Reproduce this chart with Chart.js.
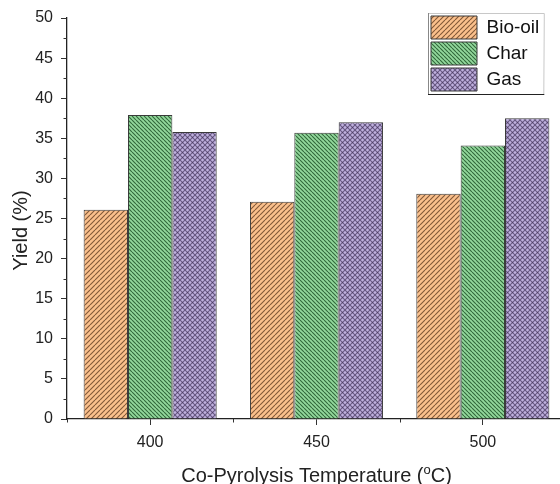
<!DOCTYPE html>
<html><head><meta charset="utf-8">
<script src="https://cdn.jsdelivr.net/npm/chart.js@4.4.0/dist/chart.umd.min.js"></script>
<style>html,body{margin:0;padding:0;overflow:hidden;background:#fff}#wrap{width:566px;height:484px;position:relative}</style>
</head><body><div id="wrap"><canvas id="c"></canvas></div>
<script>
// ---- data ----
const categories = ['400', '450', '500'];
const bioOil = [26.1, 27.1, 28.1];
const charYield = [37.9, 35.7, 34.1];
const gas = [35.8, 37.0, 37.5];
const seriesNames = ['Bio-oil', 'Char', 'Gas'];
const yMin = 0, yMax = 50, yStep = 5;
const xTitleParts = ['Co-Pyrolysis Temperature (', 'o', 'C)'];
const yTitle = 'Yield (%)';

const FONT = "'Liberation Sans', Arial, sans-serif";

function makePattern(base, line, size, dirs) {
  const c = document.createElement('canvas');
  c.width = size; c.height = size;
  const g = c.getContext('2d');
  g.fillStyle = base; g.fillRect(0, 0, size, size);
  g.strokeStyle = line; g.lineWidth = 1.1;
  dirs.forEach(d => {
    g.beginPath();
    for (let k = -1; k <= 1; k++) {
      if (d === '/') { g.moveTo(k * size, size); g.lineTo(k * size + size, 0); }
      else { g.moveTo(k * size, 0); g.lineTo(k * size + size, size); }
    }
    g.stroke();
  });
  return g.createPattern(c, 'repeat');
}

const ctx = document.getElementById('c').getContext('2d');
const pBio = makePattern('#fbc08c', 'rgba(100,62,35,0.8)', 5, ['/']);
const pChar = makePattern('#93d89c', 'rgba(25,75,35,0.8)', 4, ['\\']);
const pGas = makePattern('#bfb0de', 'rgba(60,45,85,0.65)', 5, ['/', '\\']);

const LEG_PAD = 3;

const extras = {
  id: 'extras',
  afterLayout(chart) {
    const lg = chart.legend;
    const ca = chart.chartArea;
    // place legend inside plot, top-right
    lg.left = ca.right - 135 - LEG_PAD;
    lg.top = ca.top - 2 - LEG_PAD;
  },
  afterDraw(chart) {
    const c = chart.ctx, ca = chart.chartArea;
    const ys = chart.scales.y, xs = chart.scales.x;
    c.save();
    c.strokeStyle = '#333'; c.lineWidth = 1;
    // minor y ticks
    c.beginPath();
    for (let v = yMin + yStep / 2; v < yMax; v += yStep) {
      const py = Math.round(ys.getPixelForValue(v)) + 0.5;
      c.moveTo(ca.left - 3.5, py); c.lineTo(ca.left, py);
    }
    // minor x ticks at category boundaries
    for (let i = 0; i < categories.length; i++) {
      const px = Math.round(xs.getPixelForValue(i) - (xs.getPixelForValue(1) - xs.getPixelForValue(0)) / 2) + 0.5;
      c.moveTo(px, ca.bottom); c.lineTo(px, ca.bottom + 3.5);
    }
    c.stroke();

    // legend border
    const lg = chart.legend;
    const lo = chart.options.plugins.legend.labels;
    const fs = lo.font.size;
    c.font = fs + 'px ' + FONT;
    let maxW = 0;
    seriesNames.forEach(n => { maxW = Math.max(maxW, c.measureText(n).width); });
    const bx = lg.left + LEG_PAD - 3, by = lg.top + LEG_PAD - 3;
    const bw = lo.boxWidth + fs / 2 + maxW + 8;
    const bh = seriesNames.length * lo.boxHeight + (seriesNames.length - 1) * lo.padding + 6;
    c.lineWidth = 1;
    c.strokeStyle = '#c8c8c8';
    c.beginPath(); c.moveTo(bx, by + 0.5); c.lineTo(bx + bw, by + 0.5); c.lineTo(bx + bw - 0.5, by + bh); c.stroke();
    c.strokeStyle = '#888';
    c.beginPath(); c.moveTo(bx + 0.5, by); c.lineTo(bx + 0.5, by + bh); c.stroke();
    c.strokeStyle = '#222';
    c.beginPath(); c.moveTo(bx, by + bh + 0.5); c.lineTo(bx + bw, by + bh + 0.5); c.stroke();

    // x title with superscript
    c.fillStyle = '#222';
    const f1 = '20px ' + FONT, f2 = '13px ' + FONT;
    c.font = f1; const w0 = c.measureText(xTitleParts[0]).width; const w2 = c.measureText(xTitleParts[2]).width;
    c.font = f2; const w1 = c.measureText(xTitleParts[1]).width;
    const total = w0 + w1 + w2;
    let x = (ca.left + ca.right) / 2 - total / 2;
    const base = chart.height - 2;
    c.textAlign = 'left'; c.textBaseline = 'alphabetic';
    c.font = f1; c.fillText(xTitleParts[0], x, base); x += w0;
    c.font = f2; c.fillText(xTitleParts[1], x, base - 8); x += w1;
    c.font = f1; c.fillText(xTitleParts[2], x, base);

    // y title
    c.translate(27, (ca.top + ca.bottom) / 2 + 12);
    c.rotate(-Math.PI / 2);
    c.font = f1; c.textAlign = 'center'; c.textBaseline = 'alphabetic';
    c.fillText(yTitle, 0, 0);
    c.restore();
  }
};

new Chart(ctx, {
  type: 'bar',
  data: {
    labels: categories,
    datasets: [
      { label: seriesNames[0], data: bioOil, backgroundColor: pBio, borderColor: '#3a3a3a', borderWidth: 1 },
      { label: seriesNames[1], data: charYield, backgroundColor: pChar, borderColor: '#3a3a3a', borderWidth: 1 },
      { label: seriesNames[2], data: gas, backgroundColor: pGas, borderColor: '#3a3a3a', borderWidth: 1 }
    ]
  },
  options: {
    responsive: true,
    maintainAspectRatio: false,
    animation: false,
    layout: { padding: { top: 18, right: 0, left: 0, bottom: 0 } },
    datasets: { bar: { categoryPercentage: 0.8, barPercentage: 1.0 } },
    plugins: {
      legend: {
        position: 'chartArea',
        align: 'start',
        labels: {
          boxWidth: 46, boxHeight: 23, padding: LEG_PAD,
          color: '#111',
          font: { family: FONT, size: 19 }
        }
      },
      tooltip: { enabled: false }
    },
    scales: {
      x: {
        offset: true,
        grid: { display: true, drawOnChartArea: false, offset: false, tickLength: 6, color: '#333', tickWidth: 1 },
        border: { display: true, color: '#222', width: 1.3 },
        ticks: { color: '#222', font: { family: FONT, size: 16 }, padding: 8, maxRotation: 0 },
        afterFit(s) { s.height = 65; }
      },
      y: {
        min: yMin, max: yMax,
        grid: { display: true, drawOnChartArea: false, tickLength: 6, color: '#333', tickWidth: 1 },
        border: { display: true, color: '#222', width: 1.3 },
        ticks: { stepSize: yStep, color: '#222', font: { family: FONT, size: 16 }, padding: 8 },
        afterFit(s) { s.width = 67; }
      }
    }
  },
  plugins: [extras]
});
</script>
</body></html>
